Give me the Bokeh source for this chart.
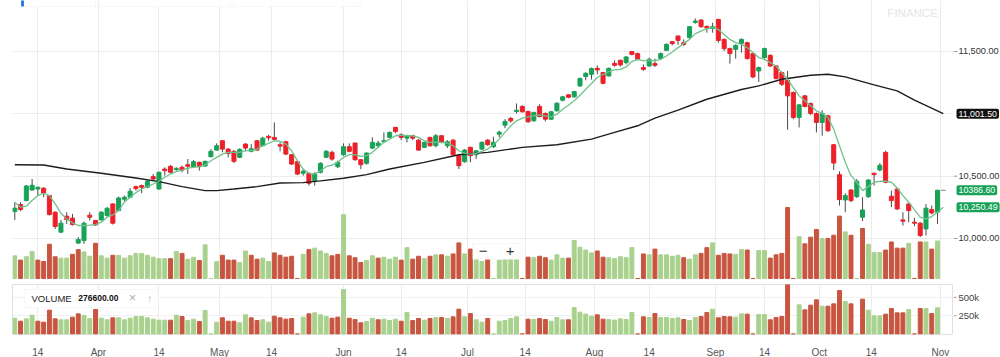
from bokeh.plotting import figure
from bokeh.layouts import column, row
from bokeh.models import (Range1d, FixedTicker, Label, BoxAnnotation, ColumnDataSource)
from bokeh.core.properties import value
from bokeh.embed import file_html
from bokeh.resources import INLINE

# ---------------- data ----------------
opens = [10216, 10272, 10304, 10389, 10397, 10403, 10344, 10211, 10051, 10179,
         10163, 9963, 9984, 10187, 10144, 10149, 10184, 10277, 10224, 10315,
         10331, 10416, 10424, 10411, 10496, 10397, 10557, 10579, 10552, 10571,
         10592, 10576, 10611, 10581, 10656, 10709, 10784, 10717, 10699, 10651,
         10757, 10699, 10784, 10744, 10819, 10811, 10752, 10776, 10672, 10616,
         10523, 10523, 10464, 10531, 10651, 10691, 10576, 10672, 10736, 10765,
         10632, 10603, 10725, 10744, 10776, 10811, 10891, 10832, 10805, 10824,
         10789, 10731, 10811, 10744, 10824, 10744, 10789, 10664, 10616, 10731,
         10672, 10717, 10789, 10736, 10837, 10909, 10963, 11019, 11059, 11019,
         10944, 11059, 11003, 10957, 11024, 11109, 11152, 11136, 11224, 11299,
         11317, 11365, 11331, 11304, 11405, 11429, 11411, 11499, 11483, 11371,
         11384, 11403, 11445, 11509, 11579, 11624, 11571, 11611, 11733, 11752,
         11701, 11685, 11757, 11597, 11523, 11517, 11565, 11571, 11483, 11344,
         11451, 11469, 11384, 11331, 11269, 11171, 10971, 11144, 11083, 11003,
         10931, 10984, 10752, 10512, 10309, 10389, 10336, 10171, 10336, 10523,
         10549, 10691, 10339, 10397, 10149, 10277, 10131, 10123, 10077, 10232,
         10211]
highs = [10291, 10291, 10429, 10477, 10416, 10411, 10349, 10216, 10149, 10211,
         10197, 10011, 10136, 10211, 10149, 10219, 10251, 10283, 10336, 10344,
         10405, 10424, 10432, 10469, 10517, 10536, 10571, 10589, 10571, 10584,
         10637, 10629, 10616, 10624, 10717, 10763, 10789, 10725, 10709, 10723,
         10765, 10757, 10789, 10816, 10832, 10931, 10771, 10784, 10677, 10624,
         10557, 10531, 10531, 10611, 10709, 10704, 10624, 10763, 10763, 10771,
         10637, 10691, 10811, 10784, 10851, 10859, 10896, 10843, 10832, 10832,
         10797, 10776, 10816, 10837, 10829, 10789, 10797, 10672, 10717, 10736,
         10709, 10779, 10797, 10816, 10864, 10957, 10976, 11083, 11069, 11024,
         11016, 11077, 11011, 11024, 11093, 11144, 11157, 11184, 11291, 11333,
         11371, 11389, 11336, 11371, 11429, 11435, 11464, 11504, 11491, 11397,
         11451, 11443, 11491, 11565, 11584, 11629, 11597, 11704, 11765, 11760,
         11709, 11731, 11763, 11605, 11531, 11557, 11605, 11579, 11491, 11379,
         11531, 11477, 11392, 11339, 11344, 11179, 11077, 11152, 11091, 11011,
         11029, 10992, 10757, 10539, 10363, 10395, 10477, 10331, 10477, 10528,
         10605, 10704, 10384, 10405, 10211, 10283, 10165, 10131, 10277, 10264,
         10392]
lows = [10149, 10219, 10299, 10384, 10344, 10331, 10184, 10077, 10043, 10117,
        10104, 9957, 9957, 10144, 10101, 10144, 10176, 10112, 10219, 10299,
        10325, 10384, 10363, 10403, 10469, 10392, 10504, 10523, 10544, 10531,
        10517, 10565, 10544, 10576, 10651, 10704, 10691, 10651, 10605, 10645,
        10699, 10691, 10704, 10739, 10784, 10784, 10699, 10669, 10589, 10509,
        10504, 10424, 10424, 10523, 10645, 10624, 10565, 10664, 10691, 10624,
        10557, 10592, 10717, 10725, 10771, 10805, 10845, 10789, 10771, 10789,
        10704, 10725, 10736, 10731, 10763, 10725, 10664, 10557, 10608, 10611,
        10637, 10709, 10744, 10725, 10811, 10885, 10928, 11003, 11011, 10928,
        10936, 10971, 10939, 10952, 11019, 11099, 11125, 11131, 11216, 11269,
        11275, 11317, 11237, 11299, 11379, 11379, 11397, 11469, 11429, 11344,
        11376, 11376, 11437, 11504, 11549, 11552, 11544, 11603, 11723, 11691,
        11651, 11651, 11571, 11504, 11403, 11443, 11491, 11435, 11285, 11256,
        11443, 11376, 11275, 11224, 10872, 10957, 10891, 11051, 10989, 10851,
        10824, 10856, 10549, 10264, 10211, 10291, 10325, 10139, 10325, 10424,
        10539, 10443, 10251, 10229, 10104, 10131, 10099, 10011, 10024, 10192,
        10117]
closes = [10243, 10232, 10421, 10427, 10411, 10365, 10192, 10096, 10123, 10152,
          10112, 9992, 10123, 10171, 10109, 10211, 10243, 10123, 10325, 10331,
          10379, 10400, 10411, 10459, 10477, 10531, 10544, 10531, 10563, 10549,
          10579, 10616, 10576, 10619, 10699, 10744, 10717, 10683, 10619, 10715,
          10725, 10720, 10709, 10805, 10808, 10795, 10741, 10677, 10597, 10517,
          10539, 10443, 10517, 10603, 10699, 10637, 10611, 10736, 10699, 10632,
          10592, 10685, 10771, 10765, 10784, 10851, 10859, 10811, 10824, 10805,
          10709, 10771, 10744, 10824, 10771, 10776, 10672, 10584, 10709, 10664,
          10704, 10771, 10752, 10771, 10853, 10939, 10944, 11029, 11016, 10936,
          11011, 10979, 10957, 11016, 11085, 11136, 11133, 11179, 11283, 11325,
          11363, 11352, 11245, 11365, 11389, 11392, 11456, 11477, 11437, 11357,
          11437, 11389, 11483, 11557, 11563, 11589, 11557, 11699, 11744, 11699,
          11688, 11699, 11589, 11523, 11483, 11549, 11597, 11443, 11296, 11371,
          11523, 11384, 11283, 11237, 11144, 10971, 11072, 11059, 11003, 10931,
          11003, 10864, 10605, 10312, 10344, 10304, 10459, 10229, 10469, 10512,
          10587, 10451, 10304, 10237, 10139, 10224, 10123, 10024, 10243, 10205,
          10386.6]
volumes = [216000, 175000, 207000, 257000, 175000, 162000, 326000, 207000, 194000, 194000,
           230000, 275000, 253000, 212000, 335000, 216000, 194000, 221000, 221000, 194000,
           216000, 239000, 239000, 221000, 203000, 189000, 189000, 189000, 257000, 239000,
           184000, 203000, 171000, 321000, 0, 162000, 221000, 175000, 175000, 153000,
           262000, 221000, 184000, 194000, 162000, 244000, 221000, 203000, 212000, 0,
           230000, 275000, 289000, 262000, 239000, 216000, 230000, 608000, 216000, 198000,
           153000, 171000, 216000, 194000, 203000, 184000, 203000, 175000, 294000, 184000,
           212000, 189000, 212000, 225000, 225000, 212000, 234000, 339000, 234000, 280000,
           194000, 162000, 212000, 0, 175000, 184000, 212000, 234000, 0, 203000,
           198000, 212000, 198000, 175000, 225000, 194000, 194000, 362000, 298000, 271000,
           244000, 262000, 203000, 198000, 189000, 207000, 198000, 294000, 0, 234000,
           225000, 280000, 225000, 225000, 212000, 221000, 198000, 184000, 225000, 239000,
           294000, 339000, 221000, 239000, 234000, 230000, 275000, 271000, 0, 266000,
           266000, 194000, 225000, 239000, 676000, 0, 398000, 330000, 394000, 467000,
           380000, 380000, 412000, 594000, 444000, 412000, 0, 476000, 326000, 248000,
           248000, 271000, 348000, 289000, 289000, 335000, 0, 348000, 348000, 280000,
           357000]
# short moving average (green): one value per session plus one projected point
ma_fast = [10291, 10251, 10259, 10304, 10344, 10363, 10344, 10277, 10203, 10157,
           10125, 10104, 10104, 10107, 10112, 10131, 10171, 10189, 10224, 10291,
           10331, 10368, 10397, 10416, 10437, 10459, 10491, 10517, 10536, 10549,
           10565, 10571, 10576, 10589, 10624, 10651, 10677, 10691, 10691, 10691,
           10704, 10704, 10717, 10744, 10763, 10784, 10779, 10757, 10704, 10624,
           10557, 10523, 10517, 10544, 10576, 10589, 10611, 10651, 10672, 10672,
           10659, 10664, 10691, 10731, 10771, 10797, 10824, 10829, 10824, 10824,
           10811, 10784, 10771, 10771, 10771, 10765, 10744, 10704, 10683, 10677,
           10683, 10699, 10717, 10752, 10797, 10851, 10904, 10944, 10965, 10976,
           10984, 10992, 10984, 10976, 10997, 11037, 11069, 11104, 11149, 11197,
           11243, 11291, 11317, 11339, 11352, 11357, 11376, 11419, 11437, 11424,
           11429, 11424, 11437, 11464, 11496, 11531, 11565, 11597, 11643, 11664,
           11683, 11691, 11677, 11637, 11597, 11571, 11557, 11531, 11491, 11451,
           11437, 11411, 11384, 11331, 11277, 11211, 11144, 11104, 11064, 11024,
           11003, 10971, 10877, 10744, 10611, 10504, 10451, 10384, 10416, 10451,
           10459, 10459, 10451, 10405, 10344, 10291, 10229, 10171, 10157, 10176,
           10211, 10250.49]
# long moving average (black), sampled at session indices
ma_slow_idx = [0, 5, 9, 15, 21, 25, 29, 33, 35, 38, 42, 46, 50, 53, 57, 61, 65, 71, 77,
               82, 88, 94, 100, 104, 108, 111, 115, 120, 126, 129, 133, 138, 141, 144,
               149, 153, 156, 161]
ma_slow = [10592, 10589, 10557, 10523, 10485, 10456, 10416, 10384, 10384, 10397, 10416,
           10445, 10448, 10462, 10483, 10512, 10557, 10611, 10672, 10691, 10731, 10752,
           10797, 10851, 10904, 10965, 11029, 11117, 11195, 11224, 11277, 11309, 11317,
           11296, 11232, 11184, 11109, 11001.5]
# date ticks (session-index positions) and their labels
tick_pos = [4, 14.5, 25, 35.5, 44.5, 57, 67, 78.5, 88.5, 100.5, 110, 121.5, 130, 139.5, 148.5, 160.5]
tick_labels = ["14", "Apr", "14", "May", "14", "Jun", "14", "Jul", "14", "Aug", "14",
               "Sep", "14", "Oct", "14", "Nov"]
price_ticks = [10000, 10500, 11000, 11500]
price_labels = ["10,000.00", "10,500.00", "", "11,500.00"]   # 11,000 is hidden behind the tag
vol_ticks = [250000, 500000]
vol_labels = ["250k", "500k"]
last_close_label = "10386.60"
ma_fast_label = "10,250.49"
ma_slow_label = "11,001.50"
volume_legend_value = "276600.00"

# ---------------- styling ----------------
GREEN = "#17a257"
RED = "#ec2029"
VGREEN = "#a9d18e"
VRED = "#c8553f"
WICK = "#4a4a4a"
GRID = "#ececec"
FONT = "Liberation Sans"

n = len(closes)
idx = list(range(n))
vol_up = [True] + [closes[i] >= closes[i - 1] for i in range(1, n)]
src = ColumnDataSource(dict(
    x=idx, o=opens, h=highs, l=lows, c=closes,
    top=[max(a, b) for a, b in zip(opens, closes)],
    bottom=[min(a, b) for a, b in zip(opens, closes)],
    color=[GREEN if c >= o else RED for o, c in zip(opens, closes)],
    vol=volumes,
    vcolor=[VGREEN if u else VRED for u in vol_up],
))

x_range = Range1d(-0.4, 162.77)
price_range = Range1d(9663, 11909)
vol_range = Range1d(-6830, 676170)

# ---------------- main price panel ----------------
p = figure(frame_width=941, frame_height=280, x_range=x_range, y_range=price_range,
           output_backend="svg", toolbar_location=None,
           x_axis_location=None, y_axis_location=None,
           min_border_left=12, min_border_right=0, min_border_top=0, min_border_bottom=0)
p.outline_line_color = None
p.xgrid.ticker = FixedTicker(ticks=tick_pos)
p.xgrid.grid_line_color = GRID
p.ygrid.ticker = FixedTicker(ticks=price_ticks)
p.ygrid.grid_line_color = GRID

# top legend chips (only their lower edge is inside the picture)
p.add_layout(BoxAnnotation(left=1.1, right=1.6, bottom=11861, top=12100,
                           fill_color="#1a73e8", fill_alpha=1, line_color=None))
for l_, r_ in [(1.6, 14.0), (14.7, 37.4), (37.9, 59.9)]:
    p.add_layout(BoxAnnotation(left=l_, right=r_, bottom=11861, top=12100,
                               fill_color="white", fill_alpha=1, line_color="#e6e6e6"))

# volume overlay at the bottom of the price panel
p.extra_y_ranges = {"vol": Range1d(-19048, 2647619)}
p.vbar(x="x", width=0.68, top="vol", bottom=0, fill_color="vcolor",
       line_color="vcolor", y_range_name="vol", source=src)

# candles
p.segment(x0="x", y0="h", x1="x", y1="l", line_color=WICK, line_width=1, source=src)
p.vbar(x="x", width=0.7, top="top", bottom="bottom", fill_color="color",
       line_color="color", source=src)

# moving averages
p.line(ma_slow_idx, ma_slow, line_color="#1c1c1c", line_width=1.4)
p.line(list(range(len(ma_fast))), ma_fast, line_color="#6fc28c", line_width=1.3)

# last-price marker
p.scatter([n], [closes[-1]], marker="dash", size=5, line_color="#888888", line_width=1)

# watermark
p.add_layout(Label(x=151.3, y=11808, text="FINANCE", text_color="#e6e6e6",
                   text_font=FONT, text_font_size="11.5px", text_baseline="middle"))

# zoom control
p.add_layout(BoxAnnotation(left=79.4, right=87.6, bottom=9832, top=9960,
                           fill_color="white", fill_alpha=0.95,
                           line_color="#e2e2e2", line_width=1))
p.segment(x0=[83.9], y0=[9855], x1=[83.9], y1=[9938], line_color="#d0d0d0", line_width=1)
p.add_layout(Label(x=81.2, y=9896, text="\u2212", text_color="#333333", text_font=FONT,
                   text_font_size="15px", text_align="center", text_baseline="middle"))
p.add_layout(Label(x=85.9, y=9896, text="+", text_color="#333333", text_font=FONT,
                   text_font_size="15px", text_align="center", text_baseline="middle"))

# ---------------- price scale column (right) ----------------
pr = figure(width=47, height=280, x_range=Range1d(0, 47), y_range=price_range,
            output_backend="svg", toolbar_location=None,
            x_axis_location=None, y_axis_location=None,
            min_border_left=0, min_border_right=0, min_border_top=0, min_border_bottom=0)
pr.outline_line_color = None
pr.xgrid.visible = False
pr.ygrid.visible = False
shown = [(t, s) for t, s in zip(price_ticks, price_labels) if s]
pr.segment(x0=[0] * len(shown), y0=[t for t, _ in shown], x1=[4] * len(shown),
           y1=[t for t, _ in shown], line_color="#9a9a9a", line_width=1)
pr.text(x=[5] * len(shown), y=[t for t, _ in shown], text=[s for _, s in shown],
        text_font=value(FONT), text_font_size="9.2px", text_color="#333333",
        text_baseline="middle", text_align="left")
for yv, txt, bg in [(ma_slow[-1], ma_slow_label, "#111111"),
                    (closes[-1], last_close_label, GREEN),
                    (ma_fast[-1], ma_fast_label, GREEN)]:
    pr.add_layout(Label(x=3, y=yv, text=txt, text_color="white",
                        text_font=FONT, text_font_size="8.8px",
                        text_baseline="middle", text_align="left",
                        background_fill_color=bg, padding=2, border_radius=2))

# ---------------- volume panel ----------------
v = figure(frame_width=941, frame_height=50, x_range=x_range, y_range=vol_range,
           output_backend="svg", toolbar_location=None, y_axis_location=None,
           min_border_left=12, min_border_right=0, min_border_top=4, min_border_bottom=0)
v.outline_line_color = "#e0e0e0"
v.vbar(x="x", width=0.68, top="vol", bottom=0, fill_color="vcolor",
       line_color="vcolor", source=src)
v.ygrid.ticker = FixedTicker(ticks=vol_ticks)
v.ygrid.grid_line_color = "#f1f1f1"
v.xaxis.ticker = FixedTicker(ticks=tick_pos)
v.xgrid.ticker = FixedTicker(ticks=tick_pos)
v.xgrid.grid_line_color = GRID
v.xaxis.major_label_overrides = {t: lab for t, lab in zip(tick_pos, tick_labels)}
v.xaxis.axis_line_color = None
v.xaxis.major_tick_line_color = None
v.xaxis.minor_tick_line_color = None
v.xaxis.major_label_standoff = 6
v.xaxis.major_label_text_font = FONT
v.xaxis.major_label_text_font_size = "10px"
v.xaxis.major_label_text_color = "#555555"

# VOLUME legend box
v.add_layout(BoxAnnotation(left=1.7, right=24.9, bottom=362000, top=608000,
                           fill_color="white", fill_alpha=1.0,
                           line_color="#e4e4e4", line_width=1))
v.add_layout(Label(x=2.9, y=485000, text="VOLUME", text_color="#222222", text_font=FONT,
                   text_font_size="9.5px", text_baseline="middle"))
v.add_layout(Label(x=11.0, y=485000, text=volume_legend_value, text_color="#111111",
                   text_font=FONT, text_font_size="8.5px", text_font_style="bold",
                   text_baseline="middle"))
v.add_layout(Label(x=20.4, y=485000, text="\u00d7", text_color="#aaaaaa", text_font=FONT,
                   text_font_size="12px", text_baseline="middle", text_align="center"))
v.add_layout(Label(x=23.4, y=485000, text="\u2191", text_color="#aaaaaa", text_font=FONT,
                   text_font_size="10px", text_baseline="middle", text_align="center"))

# ---------------- volume scale column (right) ----------------
vr = figure(width=47, height=54, x_range=Range1d(0, 47), y_range=vol_range,
            output_backend="svg", toolbar_location=None,
            x_axis_location=None, y_axis_location=None,
            min_border_left=0, min_border_right=0, min_border_top=4, min_border_bottom=0)
vr.outline_line_color = None
vr.xgrid.visible = False
vr.ygrid.visible = False
vr.segment(x0=[0, 0], y0=vol_ticks, x1=[3, 3], y1=vol_ticks, line_color="#9a9a9a", line_width=1)
vr.text(x=[5, 5], y=vol_ticks, text=vol_labels, text_font=value(FONT),
        text_font_size="9.5px", text_color="#444444", text_baseline="middle",
        text_align="left")

layout = row(column(p, v, spacing=0), column(pr, vr, spacing=0), spacing=0)
open("out.html", "w").write(file_html(layout, INLINE))
